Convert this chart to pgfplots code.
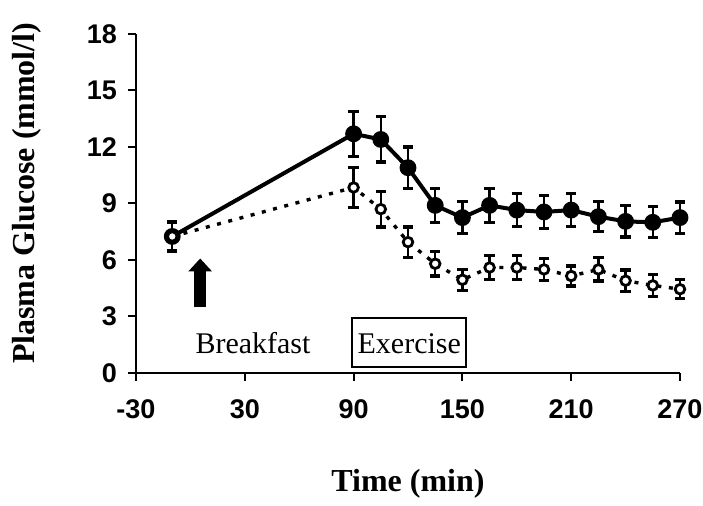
\documentclass[border=0pt]{standalone}
\usepackage{fontspec}
\setmainfont{Liberation Serif}
\newfontfamily\ticksf{Liberation Sans}
\usepackage{pgfplots}
\usepackage{pgfplotstable}
\pgfplotsset{compat=1.18}
\usetikzlibrary{arrows.meta}

% Plasma glucose, mean and SEM (mmol/l)
\pgfplotstableread{
x    y     e
-10  7.25  0.75
90   12.70 1.20
105  12.40 1.20
120  10.90 1.10
135  8.90  0.90
150  8.25  0.85
165  8.90  0.90
180  8.65  0.87
195  8.55  0.86
210  8.65  0.88
225  8.30  0.80
240  8.05  0.83
255  8.00  0.82
270  8.25  0.83
}\solidtab

\pgfplotstableread{
x    y     e
-10  7.25  0.77
90   9.85  1.05
105  8.70  0.95
120  6.95  0.80
135  5.80  0.65
150  4.95  0.55
165  5.60  0.65
180  5.60  0.62
195  5.50  0.60
210  5.15  0.53
225  5.50  0.62
240  4.90  0.57
255  4.65  0.57
270  4.45  0.50
}\opentab

\begin{document}
\begin{tikzpicture}
\begin{axis}[
  name=ax, at={(0,0)}, anchor=south west,
  scale only axis, width=272pt, height=169.5pt,
  xmin=-30, xmax=270, ymin=0, ymax=18,
  axis lines*=left,
  axis line style={line width=1.1pt},
  xtick={-30,30,...,270}, ytick={0,3,...,18},
  tick align=outside, major tick length=4pt,
  tick style={line width=1pt, black},
  ticklabel style={font=\ticksf\bfseries\fontsize{13.5}{14}\selectfont},
  /pgf/number format/assume math mode=true,
  xticklabel style={yshift=-6pt},
  yticklabel style={xshift=-2pt},
  xlabel={Time (min)},
  ylabel={Plasma Glucose (mmol/l)},
  label style={font=\bfseries\fontsize{16}{16}\selectfont},
  xlabel style={at={(axis description cs:0.5,-0.326)}, anchor=center},
  ylabel style={at={(axis description cs:-0.2000,0.53)}, anchor=center},
  clip=false,
]
% sedentary day: filled circles, solid line
\addplot[black, line width=2pt, mark=*, mark size=3.2pt, mark options={solid},
  error bars/.cd, y dir=both, y explicit,
  error bar style={solid, line width=1.2pt},
  error mark options={rotate=90, mark size=2.6pt, line width=1.6pt}]
  table[x=x, y=y, y error=e] {\solidtab};
% exercise day: open circles, dotted line
\addplot[black, line width=1.7pt, dash pattern=on 2pt off 3.8pt,
  mark=*, mark size=2.4pt, mark options={solid, fill=white, draw=black, line width=1.4pt},
  error bars/.cd, y dir=both, y explicit,
  error bar style={solid, line width=1.2pt},
  error mark options={rotate=90, mark size=2.6pt, line width=1.6pt}]
  table[x=x, y=y, y error=e] {\opentab};

% breakfast arrow
\draw[black, line width=6.3pt, -{Triangle[length=6.5pt 0 1, width=11.5pt 0 1]}]
  (axis cs:5.4,3.49) -- (axis cs:5.4,6.08);

\node[anchor=base west, inner sep=0pt, font=\fontsize{15}{15}\selectfont]
  at (axis cs:2.6,1.06) {Breakfast};
\node[draw, line width=0.9pt, anchor=base, font=\fontsize{15}{15}\selectfont,
  minimum width=57pt, inner xsep=0pt, inner ysep=3pt,
  text height=14.5pt, text depth=3.85pt]
  at (axis cs:120.7,1.06) {Exercise};

% short overhang of the time axis left of the origin
\draw[line width=1.1pt] (axis cs:-30,0) -- ++(-5pt,0);
\end{axis}
\pgfresetboundingbox
\path[use as bounding box] (ax.south west) ++(-68pt,-66.5pt) rectangle ++(351.5pt,253pt);
\end{tikzpicture}
\end{document}
